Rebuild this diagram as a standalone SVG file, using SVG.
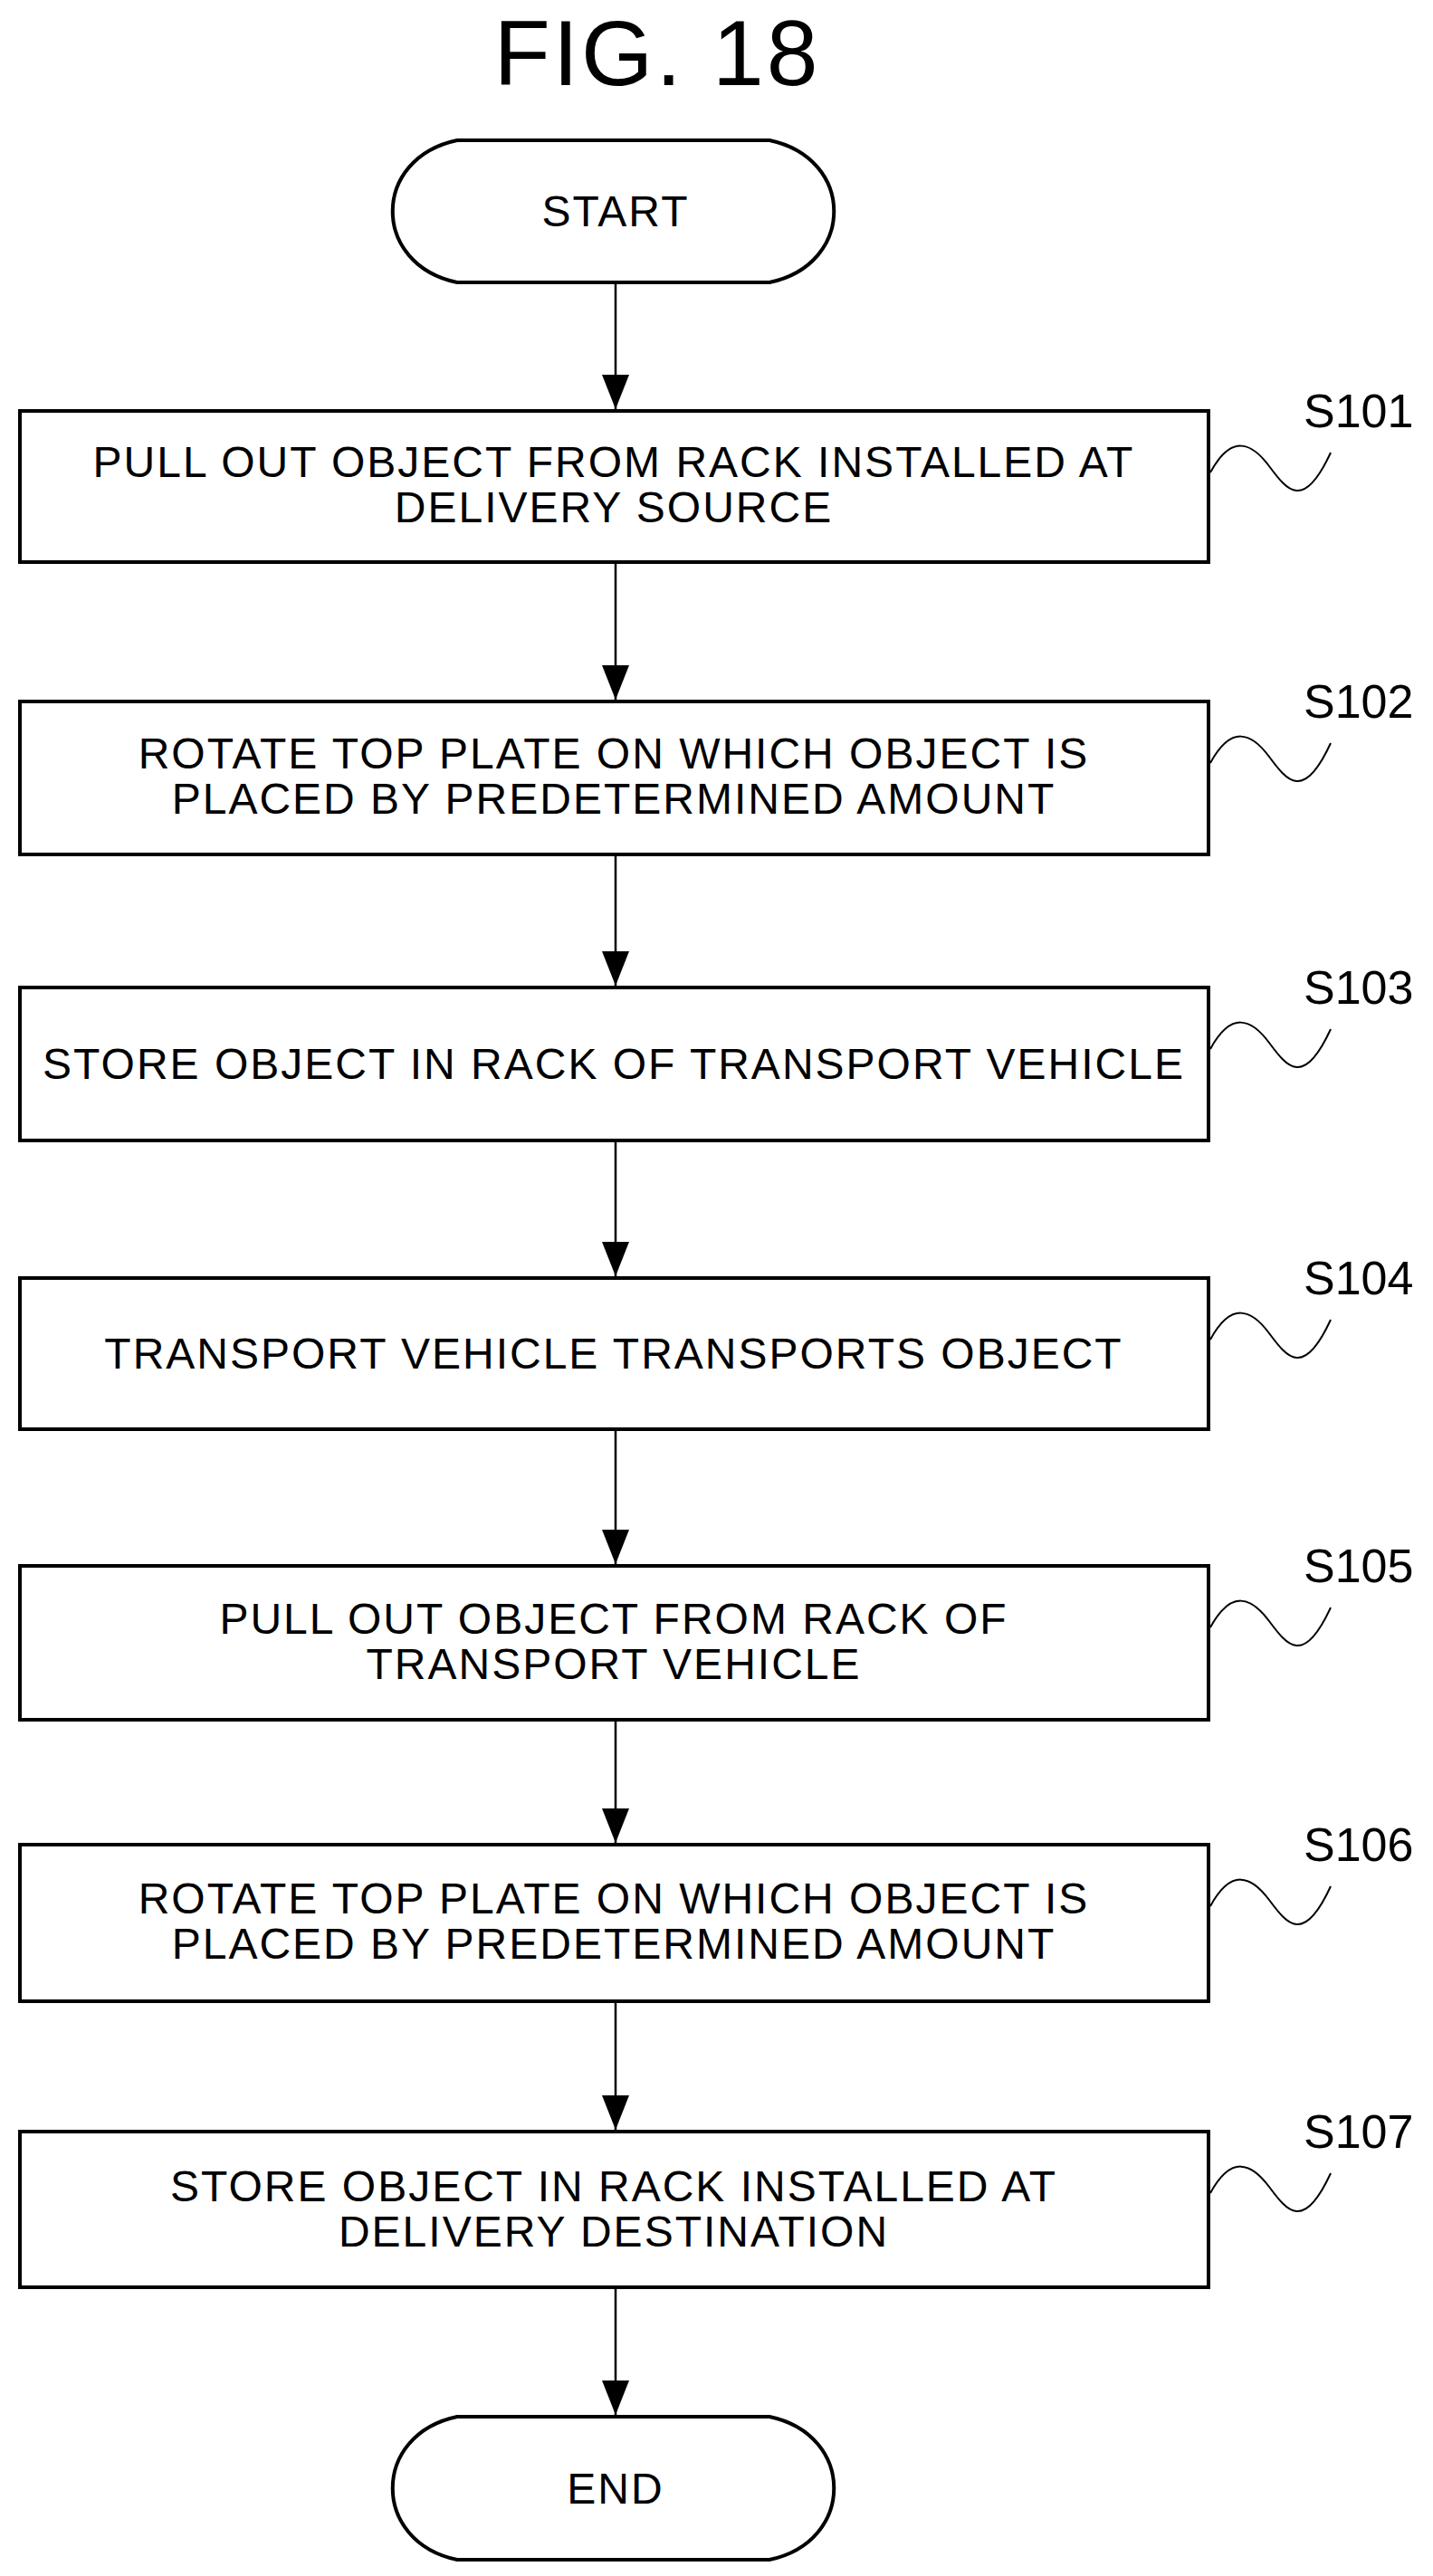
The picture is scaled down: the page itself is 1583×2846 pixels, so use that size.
<svg xmlns="http://www.w3.org/2000/svg" width="1583" height="2846" viewBox="0 0 1583 2846">
<style>
.b{fill:#fff;stroke:#000;stroke-width:4}
.t{font-family:"Liberation Sans",Arial,sans-serif;font-size:48px;letter-spacing:2px;text-anchor:middle;fill:#000}
.l{font-family:"Liberation Sans",Arial,sans-serif;font-size:52px;fill:#000}
.c{stroke:#000;stroke-width:2.5;fill:none}
.q{stroke:#000;stroke-width:2;fill:none}
</style>
<defs>
<marker id="ah" markerWidth="30" markerHeight="38" refX="15" refY="38" orient="0" markerUnits="userSpaceOnUse"><path d="M0,0 L30,0 L15,38 Z" fill="#000"/></marker></defs>
<text x="726" y="94" style="font-family:'Liberation Sans',Arial,sans-serif;font-size:102px;letter-spacing:3px;text-anchor:middle">FIG. 18</text>
<g id="connectors">
<path class="c" d="M680,312 V452" marker-end="url(#ah)"/>
<path class="c" d="M680,621 V773" marker-end="url(#ah)"/>
<path class="c" d="M680,944 V1089" marker-end="url(#ah)"/>
<path class="c" d="M680,1260 V1410" marker-end="url(#ah)"/>
<path class="c" d="M680,1579 V1728" marker-end="url(#ah)"/>
<path class="c" d="M680,1900 V2036" marker-end="url(#ah)"/>
<path class="c" d="M680,2211 V2353" marker-end="url(#ah)"/>
<path class="c" d="M680,2527 V2668" marker-end="url(#ah)"/>
</g>
<g id="start"><path class="b" d="M505,155 H850 C945,175 945,292 850,312 H505 C410,292 410,175 505,155 Z"/><text class="t" x="680" y="250">START</text></g>
<g id="s101"><rect class="b" x="22" y="454" width="1313" height="167"/><text class="t" x="678" y="527">PULL OUT OBJECT FROM RACK INSTALLED AT</text><text class="t" x="678" y="577">DELIVERY SOURCE</text>
<path class="q" d="M1337,522 C1360,480 1382,488 1402,515 S1440,565 1470,500"/><text class="l" x="1440" y="472">S101</text></g>
<g id="s102"><rect class="b" x="22" y="775" width="1313" height="169"/><text class="t" x="678" y="849">ROTATE TOP PLATE ON WHICH OBJECT IS</text><text class="t" x="678" y="899">PLACED BY PREDETERMINED AMOUNT</text>
<path class="q" d="M1337,843 C1360,801 1382,809 1402,836 S1440,886 1470,821"/><text class="l" x="1440" y="793">S102</text></g>
<g id="s103"><rect class="b" x="22" y="1091" width="1313" height="169"/><text class="t" x="678" y="1192">STORE OBJECT IN RACK OF TRANSPORT VEHICLE</text>
<path class="q" d="M1337,1159 C1360,1117 1382,1125 1402,1152 S1440,1202 1470,1137"/><text class="l" x="1440" y="1109">S103</text></g>
<g id="s104"><rect class="b" x="22" y="1412" width="1313" height="167"/><text class="t" x="678" y="1512">TRANSPORT VEHICLE TRANSPORTS OBJECT</text>
<path class="q" d="M1337,1480 C1360,1438 1382,1446 1402,1473 S1440,1523 1470,1458"/><text class="l" x="1440" y="1430">S104</text></g>
<g id="s105"><rect class="b" x="22" y="1730" width="1313" height="170"/><text class="t" x="678" y="1805">PULL OUT OBJECT FROM RACK OF</text><text class="t" x="678" y="1855">TRANSPORT VEHICLE</text>
<path class="q" d="M1337,1798 C1360,1756 1382,1764 1402,1791 S1440,1841 1470,1776"/><text class="l" x="1440" y="1748">S105</text></g>
<g id="s106"><rect class="b" x="22" y="2038" width="1313" height="173"/><text class="t" x="678" y="2114">ROTATE TOP PLATE ON WHICH OBJECT IS</text><text class="t" x="678" y="2164">PLACED BY PREDETERMINED AMOUNT</text>
<path class="q" d="M1337,2106 C1360,2064 1382,2072 1402,2099 S1440,2149 1470,2084"/><text class="l" x="1440" y="2056">S106</text></g>
<g id="s107"><rect class="b" x="22" y="2355" width="1313" height="172"/><text class="t" x="678" y="2432">STORE OBJECT IN RACK INSTALLED AT</text><text class="t" x="678" y="2482">DELIVERY DESTINATION</text>
<path class="q" d="M1337,2423 C1360,2381 1382,2389 1402,2416 S1440,2466 1470,2401"/><text class="l" x="1440" y="2373">S107</text></g>
<g id="end"><path class="b" d="M505,2670 H850 C945,2690 945,2808 850,2828 H505 C410,2808 410,2690 505,2670 Z"/><text class="t" x="680" y="2766">END</text></g>
</svg>
